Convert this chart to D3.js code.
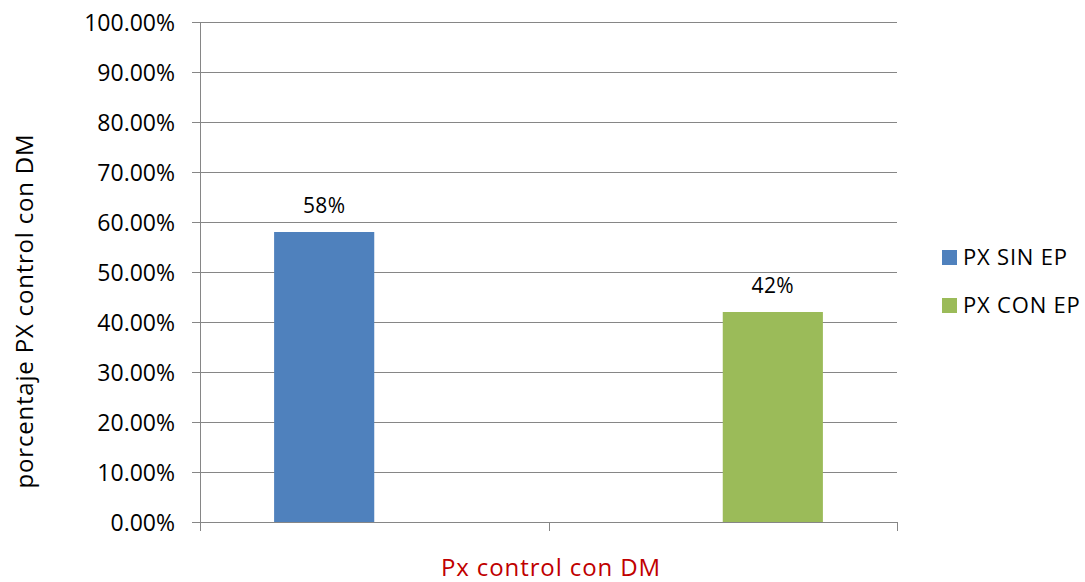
<!DOCTYPE html>
<html>
<head>
<meta charset="utf-8">
<script src="https://cdn.jsdelivr.net/npm/d3@7"></script>
<style>
  body { margin: 0; background: #fff; }
  text { font-family: "Open Sans", sans-serif; }
</style>
</head>
<body>
<div id="chart"></div>
<script>
// categories (no visible labels) and one value per series
var categories = ["c1", "c2"];
var seriesNames = ["PX SIN EP", "PX CON EP"];
var seriesColors = ["#4F81BD", "#9BBB59"];
var sinEP = [0.58, null];
var conEP = [null, 0.42];
var barLabels = ["58%", "42%"];
var yTicks = [0, 0.1, 0.2, 0.3, 0.4, 0.5, 0.6, 0.7, 0.8, 0.9, 1.0];

var W = 1085, H = 582;
var margin = { top: 22, right: 188, bottom: 59, left: 200 };
var width = W - margin.left - margin.right;   // 697

var svg = d3.select("#chart").append("svg")
       .attr("width", W).attr("height", H);
var g = svg.append("g")
       .attr("transform", "translate(" + margin.left + "," + margin.top + ")");

var y = d3.scaleLinear().domain([0, 1]).range([500, 0]);
var x0 = d3.scaleBand().domain(categories).range([0, width]).paddingInner(0).paddingOuter(0);
// two series slots inside each category, gap ~74px each side
var x1 = d3.scaleBand().domain(seriesNames).range([0, x0.bandwidth()]).paddingOuter(0.74).paddingInner(0);

// gridlines
g.selectAll(".grid").data(yTicks).enter().append("line")
       .attr("x1", 0).attr("x2", width)
       .attr("y1", d => Math.round(y(d)) + 0.5).attr("y2", d => Math.round(y(d)) + 0.5)
       .style("stroke", "#868686").style("stroke-width", 1);

// bars
var series = [sinEP, conEP];
series.forEach((vals, si) => {
       var pts = vals.map((v, i) => ({ v: v, c: categories[i], i: i })).filter(d => d.v != null);
       g.selectAll(".bar" + si).data(pts)
              .enter().append("rect")
              .attr("x", d => x0(d.c) + x1(seriesNames[si]))
              .attr("y", d => y(d.v))
              .attr("width", x1.bandwidth())
              .attr("height", d => y(0) - y(d.v))
              .style("fill", seriesColors[si]);
       g.selectAll(".lab" + si).data(pts)
              .enter().append("text")
              .attr("x", d => x0(d.c) + x1(seriesNames[si]) + x1.bandwidth() / 2)
              .attr("y", d => y(d.v) - 19)
              .attr("text-anchor", "middle")
              .style("font-size", "21px").style("letter-spacing", "0.4px").style("fill", "#000")
              .text(d => barLabels[d.i]);
});

// y axis
var yAxis = g.append("g")
       .call(d3.axisLeft(y).tickValues(yTicks).tickSize(8).tickPadding(17)
              .tickFormat(d => (d * 100).toFixed(2) + "%"));
yAxis.select(".domain").style("stroke", "#868686").attr("d", "M0.5,0V500.5");
yAxis.selectAll(".tick line").style("stroke", "#868686");
yAxis.selectAll(".tick text").style("font-size", "23px").style("fill", "#000")
       .style("font-family", "'Open Sans', sans-serif").attr("dy", "0.36em");

// x axis: ticks at category boundaries
var bounds = [0, width / 2, width];
g.append("line").attr("x1", -8).attr("x2", width).attr("y1", 500.5).attr("y2", 500.5)
       .style("stroke", "#868686");
g.selectAll(".xt").data(bounds).enter().append("line")
       .attr("x1", d => Math.round(d) + 0.5).attr("x2", d => Math.round(d) + 0.5)
       .attr("y1", 500).attr("y2", 509)
       .style("stroke", "#868686");

// axis titles
svg.append("text")
       .attr("transform", "translate(33," + (margin.top + 289) + ") rotate(-90)")
       .attr("text-anchor", "middle")
       .style("font-size", "24px").style("letter-spacing", "0.8px").style("fill", "#000")
       .text("porcentaje PX control con DM");
svg.append("text")
       .attr("x", 551).attr("y", 576)
       .attr("text-anchor", "middle")
       .style("font-size", "24px").style("letter-spacing", "0.9px").style("fill", "#C00000")
       .text("Px control con DM");

// legend
var legend = svg.append("g").attr("transform", "translate(942,250)");
seriesNames.forEach((n, i) => {
       legend.append("rect").attr("x", 0).attr("y", i * 48).attr("width", 15).attr("height", 15)
              .style("fill", seriesColors[i]);
       legend.append("text").attr("x", 21).attr("y", i * 48 + 15)
              .style("font-size", "22px").style("letter-spacing", "0.8px").style("fill", "#000").text(n);
});
</script>
</body>
</html>
